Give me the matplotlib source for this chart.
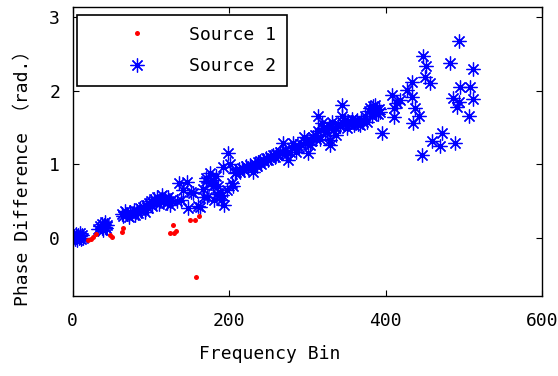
import numpy as np
import matplotlib
matplotlib.use("Agg")
import matplotlib.pyplot as plt

plt.rcParams['font.family'] = ['DejaVu Sans Mono', 'Noto Sans CJK JP']

# Source 1 (red dots)
src1_bin = [20, 23, 26, 30, 48, 51, 63, 65, 124, 128, 130, 132, 150, 156, 162, 158]
src1_phase = [-0.03, -0.015, 0.016, 0.05, 0.04, 0.016, 0.084, 0.13, 0.07, 0.175, 0.06, 0.10,
              0.245, 0.245, 0.30, -0.535]

# Source 2 (blue asterisks)
src2_bin = [1, 2, 3, 4, 5, 6, 7, 8, 9, 10, 11, 12, 13,
            33, 35, 37, 38, 39, 40, 41, 42, 43, 44,
            63, 65, 67, 70, 72, 74, 76, 78, 80, 82, 84, 86, 88, 90, 92, 94, 96, 98,
            100, 102, 104, 106, 108, 110, 112, 114, 116, 118, 120, 122, 124, 126,
            133, 136, 139, 141, 146, 148, 151, 154, 160, 163, 167, 168, 170, 171, 172, 175,
            177, 179, 180, 181, 183, 184, 186, 188, 189, 191, 192, 194, 197, 199, 201, 203,
            205, 207,
            209, 212, 214, 217, 219, 222, 224, 227, 229, 231, 233, 235, 237, 239, 241, 243,
            245, 247, 249, 252, 254, 256, 258, 260, 262, 265, 267, 269, 271, 273, 275, 278,
            280, 282, 284, 286, 289, 292, 295, 297, 299, 301, 303, 305, 307, 309, 311, 313,
            314, 316, 318, 320, 322, 325, 327, 329, 329, 331, 333, 335, 337, 339, 341, 344,
            344, 346, 348, 350, 352, 355, 357, 359, 361, 363, 365, 367, 369, 371, 373, 376,
            378, 380, 382, 384, 386, 388, 390, 392, 393, 395,
            408, 410, 410, 414, 418, 427, 433, 434, 435, 437, 442, 446, 448, 450, 452, 457,
            459, 469, 472, 482, 486, 489, 491, 493, 495, 506, 508, 511, 512, 493]
src2_phase = [0.0, 0.03, -0.02, 0.05, 0.01, -0.03, 0.04, 0.0, 0.06, 0.02, -0.02, 0.04, 0.0,
              0.12, 0.16, 0.14, 0.19, 0.11, 0.17, 0.15, 0.21, 0.13, 0.18,
              0.33, 0.30, 0.36, 0.32, 0.29, 0.35, 0.33, 0.38, 0.31, 0.36, 0.34, 0.40, 0.37,
              0.42, 0.35, 0.45, 0.40, 0.47,
              0.50, 0.44, 0.53, 0.48, 0.55, 0.46, 0.52, 0.58, 0.50, 0.54, 0.47, 0.56, 0.45, 0.52,
              0.50, 0.74, 0.52, 0.65, 0.76, 0.40, 0.62, 0.61, 0.44, 0.42, 0.67, 0.56, 0.77, 0.81,
              0.56, 0.88, 0.74, 0.70, 0.79, 0.52, 0.84, 0.59, 0.70, 0.62, 0.52, 0.58, 0.97, 0.45,
              0.65, 1.15, 1.01, 0.74, 0.70, 0.88,
              0.90, 0.93, 0.89, 0.95, 0.92, 0.98, 0.95, 0.99, 0.97, 0.90, 1.01, 0.98, 1.03, 1.04,
              1.01, 1.06, 1.04, 1.08, 1.06, 1.10, 1.08, 1.13, 1.10, 1.14, 1.12, 1.17, 1.15, 1.29,
              1.20, 1.13, 1.06, 1.17, 1.22, 1.29, 1.25, 1.17, 1.24, 1.27, 1.37, 1.30, 1.33, 1.15,
              1.26, 1.32, 1.37, 1.40, 1.35, 1.45, 1.65, 1.35, 1.56, 1.49, 1.44, 1.44, 1.52, 1.33,
              1.26, 1.58, 1.47, 1.50, 1.40, 1.55, 1.52, 1.81, 1.65, 1.56, 1.60, 1.49, 1.55, 1.58,
              1.62, 1.54, 1.57, 1.60, 1.55, 1.53, 1.60, 1.57, 1.65, 1.58, 1.72, 1.76, 1.66, 1.79,
              1.81, 1.70, 1.69, 1.75, 1.71, 1.42,
              1.94, 1.76, 1.64, 1.83, 1.88, 2.01, 1.92, 2.12, 1.56, 1.76, 1.66, 1.13, 2.47, 2.19,
              2.33, 2.11, 1.31, 1.25, 1.43, 2.37, 1.90, 1.29, 1.78, 1.85, 2.05, 1.65, 2.05, 1.89,
              2.29, 2.675]

fig = plt.figure(figsize=(5.58, 3.76), dpi=100)
ax = fig.add_axes([0.130, 0.2136, 0.842, 0.7686])

ax.plot(src2_bin, src2_phase, linestyle='none', marker=(8, 2, 0), markersize=10,
        markeredgewidth=0.9, color=(0, 0, 1), label='Source 2', zorder=2)
ax.plot(src1_bin, src1_phase, linestyle='none', marker='o', markersize=3.6,
        markeredgewidth=0, color=(1, 0, 0), label='Source 1', zorder=3)

ax.set_xlim(0, 600)
ax.set_ylim(-np.pi / 4, np.pi)
ax.set_xticks([0, 200, 400, 600])
ax.set_yticks([0, 1, 2, 3])
ax.tick_params(direction='in', top=True, right=True, length=4, width=0.8,
               labelsize=13)
ax.tick_params(axis='x', pad=12)
ax.tick_params(axis='y', pad=9)
for s in ax.spines.values():
    s.set_linewidth(1.0)

ax.set_xlabel('Frequency Bin', fontsize=13)
ax.set_ylabel('Phase Difference （rad.）', fontsize=13)
ax.xaxis.set_label_coords((270 - 72.5) / 470, -0.171)
ax.yaxis.set_label_coords(-0.086, 0.421)

handles, labels = ax.get_legend_handles_labels()
leg = ax.legend(handles[::-1], labels[::-1], loc='upper left',
                bbox_to_anchor=(0.0096, 0.972), borderaxespad=0, fontsize=13,
                handlelength=5.4, handletextpad=0.2, borderpad=0.6, labelspacing=0.75,
                fancybox=False, framealpha=1, edgecolor='black', numpoints=1)
leg.get_frame().set_linewidth(1.2)

fig.savefig('out.png', dpi=100)
